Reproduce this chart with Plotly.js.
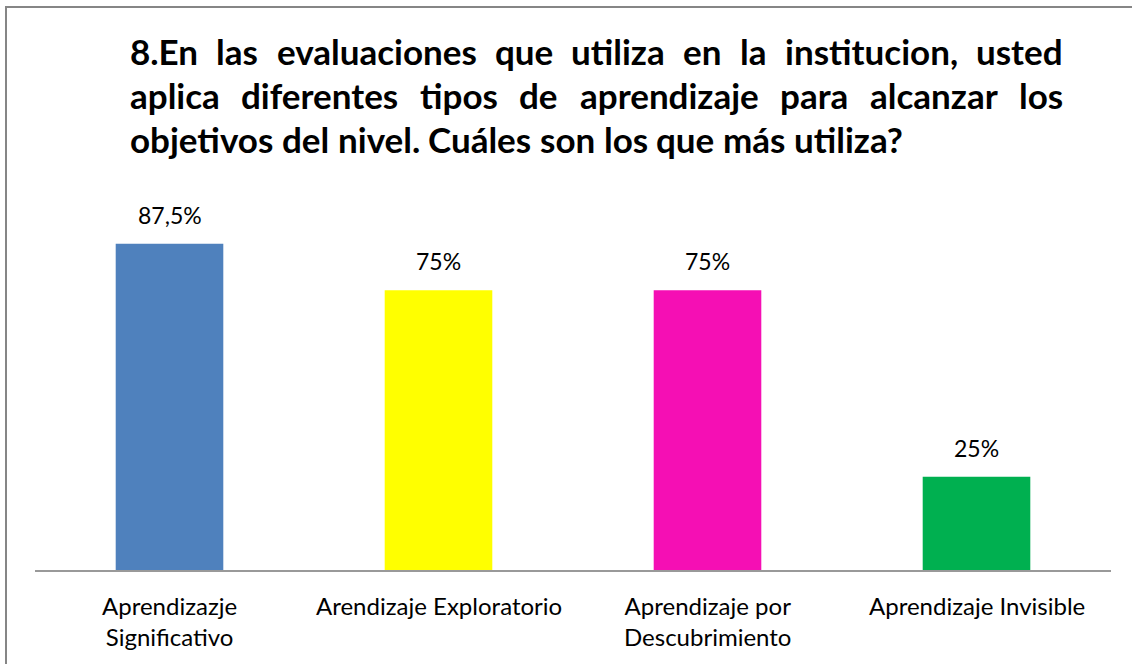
<!DOCTYPE html>
<html><head><meta charset="utf-8">
<script src="https://cdn.plot.ly/plotly-3.0.1.min.js"></script>
<style>body{margin:0;background:#fff}#chart{width:1132px;height:664px}</style>
</head><body><div id="chart"></div>
<script>
const categories = ['Aprendizazje<br>Significativo', 'Arendizaje Exploratorio', 'Aprendizaje por<br>Descubrimiento', 'Aprendizaje Invisible'];
const values = [87.5, 75, 75, 25];
const valueLabels = ['87,5%', '75%', '75%', '25%'];
const barColors = ['#4F81BD', '#FFFF00', '#F50FB4', '#00B050'];
const titleLines = [
  '8.En las evaluaciones que utiliza en la institucion, usted',
  'aplica diferentes tipos de aprendizaje para alcanzar los',
  'objetivos del nivel. Cuáles son los que más utiliza?'
];

const W = 1132, H = 664;
const M = {l: 35, r: 21, t: 197, b: 94};
const PW = W - M.l - M.r, PH = H - M.t - M.b;
const FONT = 'Lato, "Open Sans", sans-serif';
const TITLE_SIZE = 35;
const LABEL_SIZE = 24;
const px2x = p => (p - M.l) / PW;
const py2y = p => (H - M.b - p) / PH;

const ctx = document.createElement('canvas').getContext('2d');
ctx.font = 'bold ' + TITLE_SIZE + 'px Lato';

const annotations = [];
const titleLeft = 130, titleRight = 1063;
const lineCenters = [51, 95, 139];
titleLines.forEach((line, li) => {
  const words = line.split(' ');
  const justify = li < titleLines.length - 1;
  const widths = words.map(w => ctx.measureText(w).width);
  const total = widths.reduce((a, b) => a + b, 0);
  const gap = justify ? (titleRight - titleLeft - total) / (words.length - 1) : ctx.measureText(' ').width;
  let x = titleLeft;
  words.forEach((w, wi) => {
    annotations.push({
      xref: 'paper', yref: 'paper', x: px2x(x - 2), y: py2y(lineCenters[li]),
      xanchor: 'left', yanchor: 'middle', showarrow: false, text: '<b>' + w + '</b>',
      font: {family: FONT, size: TITLE_SIZE, color: '#000'}
    });
    x += widths[wi] + gap;
  });
});

// value labels above bars
categories.forEach((c, i) => {
  annotations.push({
    x: c, y: values[i], xref: 'x', yref: 'y', yanchor: 'bottom', yshift: 13,
    showarrow: false, text: valueLabels[i],
    font: {family: FONT, size: 23, color: '#000'}
  });
});

// category labels under the axis
categories.forEach((c) => {
  annotations.push({
    x: c, y: 0, xref: 'x', yref: 'y', yanchor: 'top', yshift: -19,
    showarrow: false, text: c, align: 'center',
    font: {family: FONT, size: LABEL_SIZE, color: '#000'}
  });
});

const data = [{
  type: 'bar', x: categories, y: values,
  marker: {color: barColors}, hoverinfo: 'none'
}];

const layout = {
  width: W, height: H, margin: M, showlegend: false,
  paper_bgcolor: '#fff', plot_bgcolor: '#fff', bargap: 0.6,
  font: {family: FONT, color: '#000'},
  xaxis: {
    type: 'category', showline: true, linecolor: '#999', linewidth: 2,
    ticks: '', showgrid: false, zeroline: false, showticklabels: false
  },
  yaxis: {range: [0, 100], visible: false, showgrid: false, zeroline: false},
  annotations: annotations,
  shapes: [{
    type: 'rect', xref: 'paper', yref: 'paper',
    x0: px2x(6), x1: px2x(1150), y0: py2y(680), y1: py2y(7),
    line: {color: '#868686', width: 2}, fillcolor: 'rgba(0,0,0,0)'
  }]
};

Plotly.newPlot('chart', data, layout, {staticPlot: true, displayModeBar: false});
</script>
</body></html>
